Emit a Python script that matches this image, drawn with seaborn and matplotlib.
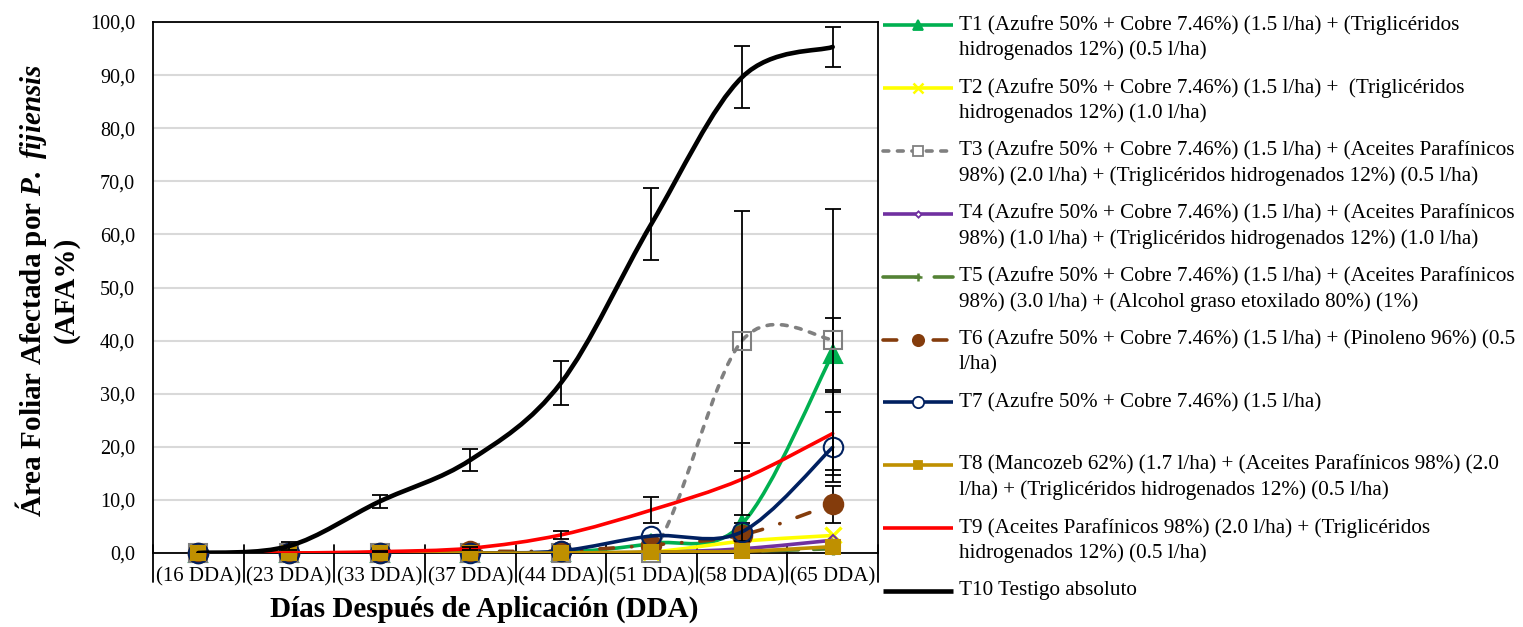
import numpy as np
import pandas as pd
import matplotlib
matplotlib.use("Agg")
import matplotlib.pyplot as plt
import seaborn as sns
from matplotlib.path import Path
from matplotlib.patches import PathPatch
from matplotlib.lines import Line2D

# =============================================================================
# Datos
# =============================================================================

dias = ['(16 DDA)', '(23 DDA)', '(33 DDA)', '(37 DDA)',
        '(44 DDA)', '(51 DDA)', '(58 DDA)', '(65 DDA)']

t1 = [0, 0, 0, 0, 0.1, 1.8, 5.5, 37.5]
t2 = [0, 0, 0, 0, 0, 0.2, 2.2, 3.3]
t3 = [0, 0, 0, 0, 0, 0.0, 40.0, 40.2]
t4 = [0, 0, 0, 0, 0, 0.1, 0.8, 2.4]
t5 = [0, 0, 0, 0, 0, 0.1, 0.3, 0.8]
t6 = [0, 0, 0, 0.3, 0.4, 1.5, 3.4, 9.2]
t7 = [0, 0, 0, 0, 0.4, 3.2, 4.0, 19.9]
t8 = [0, 0, 0, 0, 0, 0.2, 0.3, 1.2]
t9 = [0, 0, 0.25, 0.9, 3.4, 8.1, 13.9, 22.5]
t10 = [0, 1.3, 9.7, 17.5, 32.0, 62.0, 89.6, 95.3]

# desviaciones (barras de error)
e1 = [0, 0, 0, 0, 0, 0, 0, 6.8]
e3 = [0, 0, 0, 0, 0, 0, 24.5, 24.5]
e6 = [0, 0, 0, 0, 0, 0, 0, 3.5]
e7 = [0, 0, 0, 0, 0, 0, 1.7, 6.6]
e9 = [0, 0, 0.1, 0.3, 0.8, 2.4, 6.8, 7.9]
e10 = [0, 0.8, 1.2, 2.0, 4.2, 6.8, 5.8, 3.8]
sin_error = [0] * 8

y_ticks = [0, 10, 20, 30, 40, 50, 60, 70, 80, 90, 100]

nombres = [
    'T1 (Azufre 50% + Cobre 7.46%) (1.5 l/ha) + (Triglicéridos\nhidrogenados 12%) (0.5 l/ha)',
    'T2 (Azufre 50% + Cobre 7.46%) (1.5 l/ha) +  (Triglicéridos\nhidrogenados 12%) (1.0 l/ha)',
    'T3 (Azufre 50% + Cobre 7.46%) (1.5 l/ha) + (Aceites Parafínicos\n98%) (2.0 l/ha) + (Triglicéridos hidrogenados 12%) (0.5 l/ha)',
    'T4 (Azufre 50% + Cobre 7.46%) (1.5 l/ha) + (Aceites Parafínicos\n98%) (1.0 l/ha) + (Triglicéridos hidrogenados 12%) (1.0 l/ha)',
    'T5 (Azufre 50% + Cobre 7.46%) (1.5 l/ha) + (Aceites Parafínicos\n98%) (3.0 l/ha) + (Alcohol graso etoxilado 80%) (1%)',
    'T6 (Azufre 50% + Cobre 7.46%) (1.5 l/ha) + (Pinoleno 96%) (0.5\nl/ha)',
    'T7 (Azufre 50% + Cobre 7.46%) (1.5 l/ha)',
    'T8 (Mancozeb 62%) (1.7 l/ha) + (Aceites Parafínicos 98%) (2.0\nl/ha) + (Triglicéridos hidrogenados 12%) (0.5 l/ha)',
    'T9 (Aceites Parafínicos 98%) (2.0 l/ha) + (Triglicéridos\nhidrogenados 12%) (0.5 l/ha)',
    'T10 Testigo absoluto',
]

# =============================================================================
# Estilos
# =============================================================================

series = [
    # valores, error, color, marcador, tam, relleno, estilo
    (t1, e1, '#00B050', '^', 13, True, 'solid'),
    (t2, sin_error, '#FFFF00', 'x', 12, True, 'solid'),
    (t3, e3, '#808080', 's', 13.5, False, (0, (1.6, 2.4))),
    (t4, sin_error, '#7030A0', 'D', 5.5, False, 'solid'),
    (t5, sin_error, '#548235', '+', 9, True, (0, (10, 4.2))),
    (t6, e6, '#843C0C', 'o', 14, True, (0, (3.8, 5.0, 0.1, 5.0))),
    (t7, e7, '#002060', 'o', 14, False, 'solid'),
    (t8, sin_error, '#BF9000', 's', 10.5, True, 'solid'),
    (t9, e9, '#FF0000', None, 0, True, 'solid'),
    (t10, e10, '#000000', None, 0, True, 'solid'),
]

sns.set_theme(style='white')
plt.rcParams['font.family'] = ['Liberation Serif', 'DejaVu Serif']
plt.rcParams['text.color'] = 'black'
plt.rcParams['axes.labelcolor'] = 'black'
plt.rcParams['xtick.color'] = 'black'
plt.rcParams['ytick.color'] = 'black'
plt.rcParams['mathtext.fontset'] = 'custom'
plt.rcParams['mathtext.rm'] = 'Liberation Serif'
plt.rcParams['mathtext.it'] = 'Liberation Serif:italic'
plt.rcParams['mathtext.bf'] = 'Liberation Serif:bold'
plt.rcParams['mathtext.bfit'] = 'Liberation Serif:italic:bold'

W, H = 1523, 627
fig = plt.figure(figsize=(W / 100, H / 100), dpi=100)
ax = fig.add_axes([153 / W, 74 / H, 725 / W, 531 / H])


def curva_suave(ax, y, color, lw, ls, z):
    # linea suavizada tipo Excel (bezier entre los puntos)
    p = np.column_stack([np.arange(len(y), dtype=float), np.array(y, float)])
    n = len(p)
    verts = [p[0]]
    codes = [Path.MOVETO]
    for i in range(n - 1):
        a = p[i - 1] if i > 0 else p[i]
        d = p[i + 2] if i + 2 < n else p[i + 1]
        verts += [p[i] + (p[i + 1] - a) / 6, p[i + 1] - (d - p[i]) / 6, p[i + 1]]
        codes += [Path.CURVE4] * 3
    patch = PathPatch(Path(verts, codes), fill=False, edgecolor=color, lw=lw,
                      linestyle=ls, capstyle='round', joinstyle='round', zorder=z)
    ax.add_patch(patch)


x = np.arange(len(dias))

for i, (vals, err, col, mk, ms, lleno, ls) in enumerate(series):
    z = 3 + i
    lw = 3.3 if col == '#000000' else 2.6
    curva_suave(ax, vals, col, lw, ls, z)
    err = np.array(err)
    m = err > 0
    if m.any():
        ax.errorbar(x[m], np.array(vals)[m], yerr=err[m], fmt='none', ecolor='black',
                    elinewidth=1.3, capsize=6, capthick=1.3, zorder=z)
    if mk is not None:
        df = pd.DataFrame({'x': x, 'y': vals})
        sns.lineplot(data=df, x='x', y='y', ax=ax, marker=mk, markersize=ms,
                     linestyle='', color=col, markeredgecolor=col,
                     markerfacecolor=col if lleno else 'none',
                     markeredgewidth=2.4 if mk in ('x', '+') else 1.5,
                     errorbar=None, zorder=z + 0.5, clip_on=False)

ax.set_xlim(-0.5, len(dias) - 0.5)
ax.set_ylim(0, 100)
ax.set_xticks(x, dias)
ax.set_yticks(y_ticks, [f'{v:.1f}'.replace('.', ',') for v in y_ticks])
ax.tick_params(axis='x', length=0, pad=10, labelsize=15, colors='black')
ax.tick_params(axis='y', direction='in', length=5, width=1.3, pad=13,
               labelsize=14.5, colors='black')
ax.set_xlabel('')
ax.set_ylabel('')
ax.yaxis.grid(True, color='#D9D9D9', lw=1.5)
ax.set_axisbelow(True)
for s in ax.spines.values():
    s.set_color('black')
    s.set_linewidth(1.3)

# separadores de categorias
for b in np.arange(-0.5, len(dias), 1.0):
    ax.plot([b, b], [0.015, -0.055], transform=ax.get_xaxis_transform(),
            color='black', lw=1.3, clip_on=False, zorder=2)

# titulos de ejes
fig.text(31 / W, 1 - 290 / H, r'Área Foliar Afectada por $\mathbfit{P.\ fijiensis}$',
         rotation=90, ha='center', va='center', fontsize=21, fontweight='bold')
fig.text(66 / W, 1 - 290 / H, '(AFA%)', rotation=90, ha='center', va='center',
         fontsize=21, fontweight='bold')
fig.text(484 / W, 1 - 609 / H, 'Días Después de Aplicación (DDA)',
         ha='center', va='center', fontsize=21, fontweight='bold')

# leyenda
x0, x1, xt = 883 / W, 953 / W, 959 / W
for i, (nombre, (vals, err, col, mk, ms, lleno, ls)) in enumerate(zip(nombres, series)):
    yy = 25.3 + 62.85 * i
    yf = 1 - yy / H
    lw = 3.3 if col == '#000000' else 2.6
    fig.add_artist(Line2D([x0, x1], [yf, yf], color=col, lw=lw, linestyle=ls,
                          dash_capstyle='round', solid_capstyle='butt'))
    if mk is not None:
        fig.add_artist(Line2D([(x0 + x1) / 2], [yf], marker=mk, markersize=ms * 0.58,
                              color=col, markeredgecolor=col,
                              markerfacecolor=col if lleno else 'white',
                              markeredgewidth=1.8 if mk in ('x', '+') else 1.3,
                              linestyle=''))
    for j, linea in enumerate(nombre.split('\n')):
        fig.text(xt, 1 - (yy + 25 * j) / H, linea, ha='left', va='center', fontsize=15.2)

fig.savefig('out.png', dpi=100)
